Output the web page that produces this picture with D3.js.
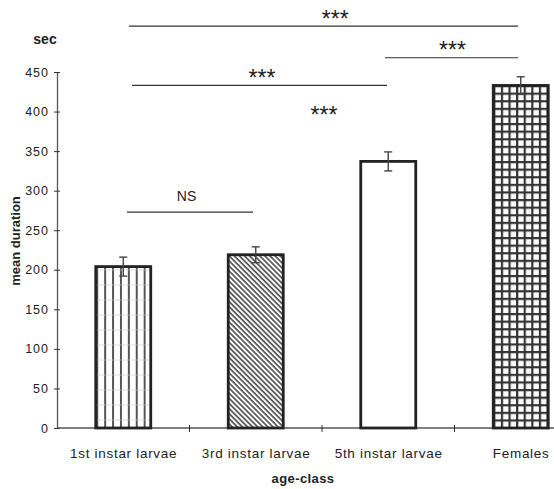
<!DOCTYPE html>
<html>
<head>
<meta charset="utf-8">
<script src="https://cdn.jsdelivr.net/npm/d3@7"></script>
<style>
  body { margin: 0; background: #fff; }
  svg { font-family: "Liberation Sans", Arial, sans-serif; }
</style>
</head>
<body>
<div id="chart"></div>
<script>
var categories = ["1st instar larvae", "3rd instar larvae", "5th instar larvae", "Females"];
var means = [204, 219, 337, 433];
var errors = [12, 10, 12, 11];
var fills = ["vstripe", "diag", "none", "grid"];
var yTicks = [0, 50, 100, 150, 200, 250, 300, 350, 400, 450];

// significance lines, ends and label in category units (0 = left edge of the first category)
var brackets = [
  { start: 0.543, end: 3.479, level: 508, label: "***", labelAt: 2.10 },
  { start: 2.475, end: 3.479, level: 468, label: "***", labelAt: 2.985 },
  { start: 0.566, end: 2.491, level: 433, label: "***", labelAt: 1.547 },
  { start: 0.528, end: 1.479, level: 273, label: "NS", labelAt: 0.978 }
];
var looseStars = [{ at: 2.015, level: 386, label: "***" }];

var width = 554, height = 489;
var margin = { left: 57, top: 72, bottom: 61 };

var svg = d3.select("#chart").append("svg")
  .attr("width", width)
  .attr("height", height);

var x = d3.scaleBand()
  .domain(categories)
  .range([margin.left, margin.left + 4 * 132.5])
  .paddingInner(0.585)
  .paddingOuter(0.2925);

var y = d3.scaleLinear()
  .domain([0, 450])
  .range([height - margin.bottom, margin.top]);

function center(i) { return x(categories[i]) + x.bandwidth() / 2; }
function unit(u) { return margin.left + u * x.step(); }

var defs = svg.append("defs");

var p1 = defs.append("pattern").attr("id", "vstripe")
  .attr("patternUnits", "userSpaceOnUse")
  .attr("x", x(categories[0]) + 0.5).attr("y", y(0))
  .attr("width", 7.9).attr("height", 15);
p1.append("rect").attr("width", 7.9).attr("height", 15).attr("fill", "#fff");
p1.append("rect").attr("x", 0).attr("width", 2).attr("height", 15).attr("fill", "#555");
p1.append("line").attr("x1", 0).attr("x2", 7.9).attr("y1", 7).attr("y2", 7)
  .attr("stroke", "#ccc").attr("stroke-width", 0.6);

var p2 = defs.append("pattern").attr("id", "diag")
  .attr("patternUnits", "userSpaceOnUse").attr("width", 3.6).attr("height", 3.6)
  .attr("patternTransform", "rotate(45)");
p2.append("rect").attr("width", 3.6).attr("height", 3.6).attr("fill", "#fff");
p2.append("rect").attr("width", 3.6).attr("height", 1.7).attr("fill", "#555");

var p3 = defs.append("pattern").attr("id", "grid")
  .attr("patternUnits", "userSpaceOnUse")
  .attr("x", x(categories[3])).attr("y", y(0) - 1)
  .attr("width", 7.6).attr("height", 7.6);
p3.append("rect").attr("width", 7.6).attr("height", 7.6).attr("fill", "#fff");
p3.append("rect").attr("width", 2.2).attr("height", 7.6).attr("fill", "#333");
p3.append("rect").attr("width", 7.6).attr("height", 2.2).attr("fill", "#333");

// y axis
var yAxis = svg.append("g")
  .attr("transform", "translate(" + margin.left + ",0)")
  .call(d3.axisLeft(y).tickValues(yTicks).tickSize(3).tickSizeOuter(0).tickPadding(5));
yAxis.select(".domain").attr("stroke", "#555").attr("stroke-width", 1.3);
yAxis.selectAll(".tick line").attr("x2", 3).attr("x1", -3).attr("stroke", "#333");
yAxis.selectAll("text").attr("font-size", 12.5).attr("letter-spacing", 1).attr("fill", "#222");

// x axis
var xAxisG = svg.append("g");
xAxisG.append("line")
  .attr("x1", margin.left).attr("x2", unit(4))
  .attr("y1", y(0)).attr("y2", y(0))
  .attr("stroke", "#555").attr("stroke-width", 1.3);
xAxisG.selectAll(".xt").data([1, 2, 3]).enter().append("line")
  .attr("x1", function(d) { return unit(d); })
  .attr("x2", function(d) { return unit(d); })
  .attr("y1", y(0) - 3).attr("y2", y(0) + 4)
  .attr("stroke", "#333");
xAxisG.selectAll(".xl").data(categories).enter().append("text")
  .attr("x", function(d, i) { return center(i) + 0.4; })
  .attr("y", y(0) + 30)
  .attr("text-anchor", "middle")
  .attr("font-size", 13.5)
  .attr("letter-spacing", 0.7)
  .attr("fill", "#222")
  .text(function(d) { return d; });

// bars
svg.selectAll(".bar").data(means).enter().append("rect")
  .attr("class", "bar")
  .attr("x", function(d, i) { return x(categories[i]); })
  .attr("width", x.bandwidth())
  .attr("y", function(d) { return y(d); })
  .attr("height", function(d) { return y(0) - y(d); })
  .attr("fill", function(d, i) { return fills[i] === "none" ? "#fff" : "url(#" + fills[i] + ")"; })
  .attr("stroke", "#222")
  .attr("stroke-width", 2.8);

// error bars
var eb = svg.selectAll(".err").data(means).enter().append("g");
eb.append("line")
  .attr("x1", function(d, i) { return center(i); })
  .attr("x2", function(d, i) { return center(i); })
  .attr("y1", function(d, i) { return y(d - errors[i]); })
  .attr("y2", function(d, i) { return y(d + errors[i]); })
  .attr("stroke", "#444").attr("stroke-width", 1.4);
eb.selectAll(".cap").data(function(d, i) { return [[i, d - errors[i]], [i, d + errors[i]]]; })
  .enter().append("line")
  .attr("x1", function(d) { return center(d[0]) - 4; })
  .attr("x2", function(d) { return center(d[0]) + 4; })
  .attr("y1", function(d) { return y(d[1]); })
  .attr("y2", function(d) { return y(d[1]); })
  .attr("stroke", "#444").attr("stroke-width", 1.4);

// significance lines
var bg = svg.selectAll(".br").data(brackets).enter().append("g");
bg.append("line")
  .attr("x1", function(d) { return unit(d.start); })
  .attr("x2", function(d) { return unit(d.end); })
  .attr("y1", function(d) { return y(d.level); })
  .attr("y2", function(d) { return y(d.level); })
  .attr("stroke", "#333").attr("stroke-width", 1.2);
bg.append("text")
  .attr("x", function(d) { return unit(d.labelAt); })
  .attr("y", function(d) { return d.label === "NS" ? y(d.level) - 11 : y(d.level) + 0.5; })
  .attr("text-anchor", "middle")
  .attr("font-size", function(d) { return d.label === "NS" ? 14 : 23; })
  .attr("fill", "#222")
  .text(function(d) { return d.label; });

svg.selectAll(".ls").data(looseStars).enter().append("text")
  .attr("x", function(d) { return unit(d.at); })
  .attr("y", function(d) { return y(d.level); })
  .attr("text-anchor", "middle")
  .attr("font-size", 23)
  .attr("fill", "#222")
  .text(function(d) { return d.label; });

// axis titles
svg.append("text")
  .attr("x", 45).attr("y", 44)
  .attr("text-anchor", "middle")
  .attr("font-size", 14).attr("font-weight", "bold")
  .attr("fill", "#222")
  .text("sec");

svg.append("text")
  .attr("transform", "translate(20,241) rotate(-90)")
  .attr("text-anchor", "middle")
  .attr("font-size", 13).attr("font-weight", "bold")
  .attr("fill", "#222")
  .text("mean duration");

svg.append("text")
  .attr("x", 303).attr("y", 483)
  .attr("text-anchor", "middle")
  .attr("font-size", 13).attr("font-weight", "bold")
  .attr("letter-spacing", 0.4)
  .attr("fill", "#222")
  .text("age-class");
</script>
</body>
</html>
